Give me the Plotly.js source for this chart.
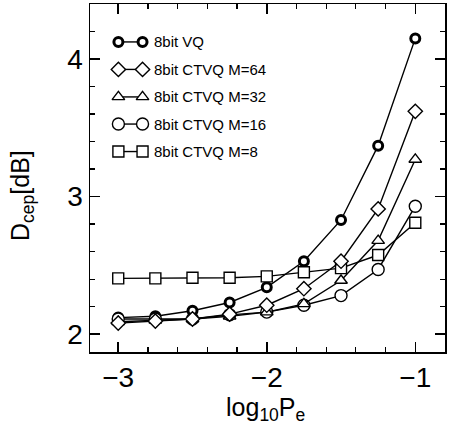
<!DOCTYPE html>
<html>
<head>
<meta charset="utf-8">
<script src="https://cdn.plot.ly/plotly-3.0.1.min.js"></script>
<style>
  html, body { margin: 0; padding: 0; background: #fff; }
  #chart { width: 454px; height: 428px; }
</style>
</head>
<body>
<div id="chart"></div>
<script>
// Error-rate points (log10 Pe)
const logPe = [-3, -2.75, -2.5, -2.25, -2, -1.75, -1.5, -1.25, -1];

// Cepstral distortion (dB) for each quantizer
const vq8    = [2.12, 2.13, 2.17, 2.23, 2.34, 2.53, 2.83, 3.37, 4.15];
const ctvq64 = [2.08, 2.095, 2.11, 2.145, 2.21, 2.33, 2.53, 2.91, 3.62];
const ctvq32 = [2.09, 2.10, 2.11, 2.13, 2.16, 2.22, 2.39, 2.68, 3.27];
const ctvq16 = [2.11, 2.11, 2.11, 2.14, 2.16, 2.21, 2.28, 2.47, 2.93];
const ctvq8  = [2.405, 2.405, 2.41, 2.41, 2.42, 2.45, 2.48, 2.575, 2.81];

const seriesNames = ['8bit VQ', '8bit CTVQ M=64', '8bit CTVQ M=32', '8bit CTVQ M=16', '8bit CTVQ M=8'];

const FONT = 'Liberation Sans, Arial, Helvetica, sans-serif';

// Marker styles per series (same order as seriesNames)
const markerStyles = [
  { symbol: 'circle',      size: 9,  line: { color: '#000', width: 3 },   color: '#fff' },
  { symbol: 'diamond',     size: 11, line: { color: '#000', width: 1.4 }, color: '#fff' },
  { symbol: 'triangle-up', size: 11, line: { color: '#000', width: 1.4 }, color: '#fff' },
  { symbol: 'circle',      size: 12, line: { color: '#000', width: 1.4 }, color: '#fff' },
  { symbol: 'square',      size: 11, line: { color: '#000', width: 1.4 }, color: '#fff' }
];
const seriesData = [vq8, ctvq64, ctvq32, ctvq16, ctvq8];

function curve(i) {
  return {
    x: logPe, y: seriesData[i], type: 'scatter', mode: 'lines+markers',
    name: seriesNames[i], showlegend: false,
    line: { color: '#000', width: 1.4 },
    marker: markerStyles[i],
    cliponaxis: false
  };
}

// drawing order: open symbols above the bold VQ circles
const traces = [0, 3, 2, 4, 1].map(curve);

// Hand-built key: two symbols joined by a short line, in the upper left
const keyX = [0.080, 0.148];
const keyRowY = [0.891, 0.812, 0.733, 0.655, 0.576];
const annotations = [];
seriesNames.forEach((nm, i) => {
  traces.push({
    x: keyX, y: [keyRowY[i], keyRowY[i]], xaxis: 'x2', yaxis: 'y2',
    type: 'scatter', mode: 'lines+markers', showlegend: false, hoverinfo: 'skip',
    line: { color: '#000', width: 1.4 }, marker: markerStyles[i]
  });
  annotations.push({
    xref: 'paper', yref: 'paper', x: 0.176, y: keyRowY[i],
    xanchor: 'left', yanchor: 'middle', showarrow: false,
    text: nm, font: { family: FONT, size: 15, color: '#000' }
  });
});

// Axis titles
annotations.push({
  xref: 'paper', yref: 'paper', x: 0.495, y: -0.165, xanchor: 'center', yanchor: 'middle',
  showarrow: false, text: 'log<sub>10</sub>P<sub>e</sub>',
  font: { family: FONT, size: 25, color: '#000' }
});
annotations.push({
  xref: 'paper', yref: 'paper', x: -0.19, y: 0.45, xanchor: 'center', yanchor: 'middle',
  showarrow: false, textangle: -90, text: 'D<sub>cep</sub>[dB]',
  font: { family: FONT, size: 25, color: '#000' }
});

const axisCommon = {
  showgrid: false, zeroline: false, showline: true, linecolor: '#000', linewidth: 1.5,
  mirror: 'allticks', ticks: 'inside', ticklen: 10, tickwidth: 1.5, tickcolor: '#000',
  tickfont: { family: FONT, size: 28, color: '#000' },
  minor: { ticks: 'inside', ticklen: 5, tickwidth: 1.2, tickcolor: '#000', dtick: 0.2, showgrid: false }
};

const layout = {
  width: 454, height: 428,
  margin: { l: 90, r: 9, t: 4, b: 76 },
  paper_bgcolor: '#fff', plot_bgcolor: '#fff',
  showlegend: false,
  xaxis: Object.assign({}, axisCommon, { range: [-3.19, -0.8], tick0: 0, dtick: 1, tickformat: 'd' }),
  yaxis: Object.assign({}, axisCommon, { range: [1.87, 4.40], tick0: 0, dtick: 1, tickformat: 'd' }),
  xaxis2: { overlaying: 'x', range: [0, 1], visible: false, fixedrange: true },
  yaxis2: { overlaying: 'y', range: [0, 1], visible: false, fixedrange: true },
  annotations: annotations
};

Plotly.newPlot('chart', traces, layout, { staticPlot: true, displayModeBar: false });
</script>
</body>
</html>
